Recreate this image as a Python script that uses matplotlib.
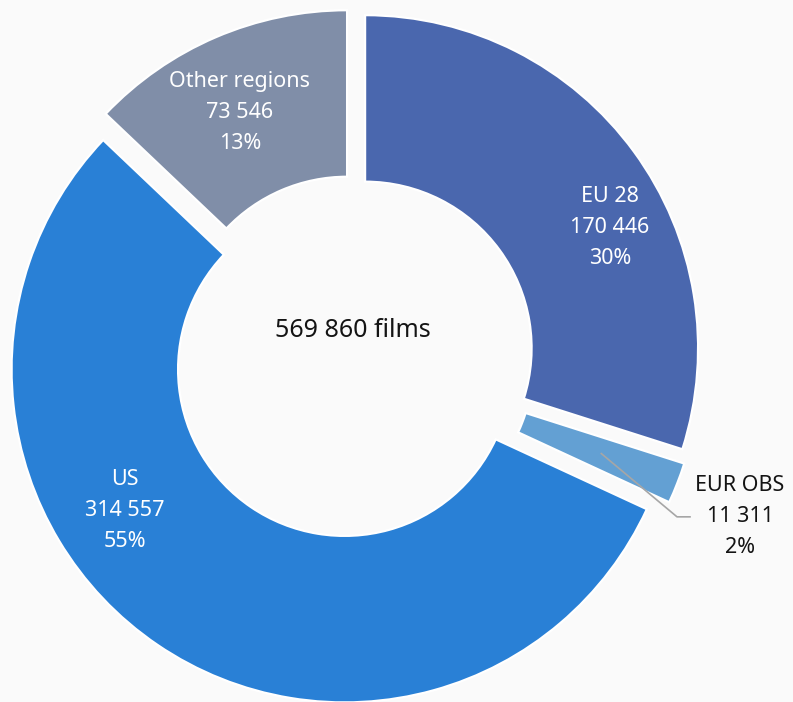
import matplotlib

matplotlib.use("Agg")
import matplotlib.pyplot as plt
import numpy as np

# films by region of origin
REGIONS = ["EU 28", "EUR OBS", "US", "Other regions"]
FILMS = [170446, 11311, 314557, 73546]
COLORS = ["#4a67ae", "#63a0d3", "#2980d6", "#808ea8"]

# where each in-slice label sits: (angle in degrees, distance from centre)
LABEL_AT = {"EU 28": (26.7, 0.864), "US": (-146.1, 0.825), "Other regions": (114.8, 0.81)}

BG = "#fafafa"
INK = "#141414"

plt.rcParams.update({"font.family": ["Noto Sans", "DejaVu Sans"], "font.size": 15.5})

fig = plt.figure(figsize=(7.93, 7.02), dpi=100, facecolor=BG)
ax = fig.add_axes([0, 0, 1, 1])
ax.set_facecolor(BG)

total = sum(FILMS)
wedges, _ = ax.pie(
    FILMS, colors=COLORS, startangle=90, counterclock=False, radius=1.0,
    explode=[0.045] * len(FILMS),
    wedgeprops=dict(width=0.5, edgecolor="white", linewidth=1.6),
)


def fmt(n):
    return f"{n:,}".replace(",", " ")


for name, val in zip(REGIONS, FILMS):
    pct = f"{round(100 * val / total)}%"
    txt = f"{name}\n{fmt(val)}\n{pct}"
    if name in LABEL_AT:
        ang, rad = LABEL_AT[name]
        a = np.deg2rad(ang)
        ax.text(rad * np.cos(a), rad * np.sin(a), txt, color="white", ha="center", va="center",
                linespacing=1.62)
    else:
        # small slice: label outside with an elbow leader line
        w = wedges[REGIONS.index(name)]
        mid = np.deg2rad((w.theta1 + w.theta2) / 2)
        x0, y0 = 0.8 * np.cos(mid), 0.8 * np.sin(mid)
        ly = -0.48
        ax.plot([x0, 0.973, 1.012], [y0, ly, ly], color="#a6a6a6", linewidth=1.2, zorder=5)
        ax.text(1.162, ly, txt, color=INK, ha="center", va="center", linespacing=1.62)

ax.text(0, 0.081, f"{fmt(total)} films", color=INK, ha="center", va="center", fontsize=18)

ax.set_xlim(-353 / 333, (793 - 353) / 333)
ax.set_ylim((357 - 702) / 333, 357 / 333)
ax.set_aspect("equal")
ax.axis("off")

fig.savefig("out.png", dpi=100, facecolor=BG)
